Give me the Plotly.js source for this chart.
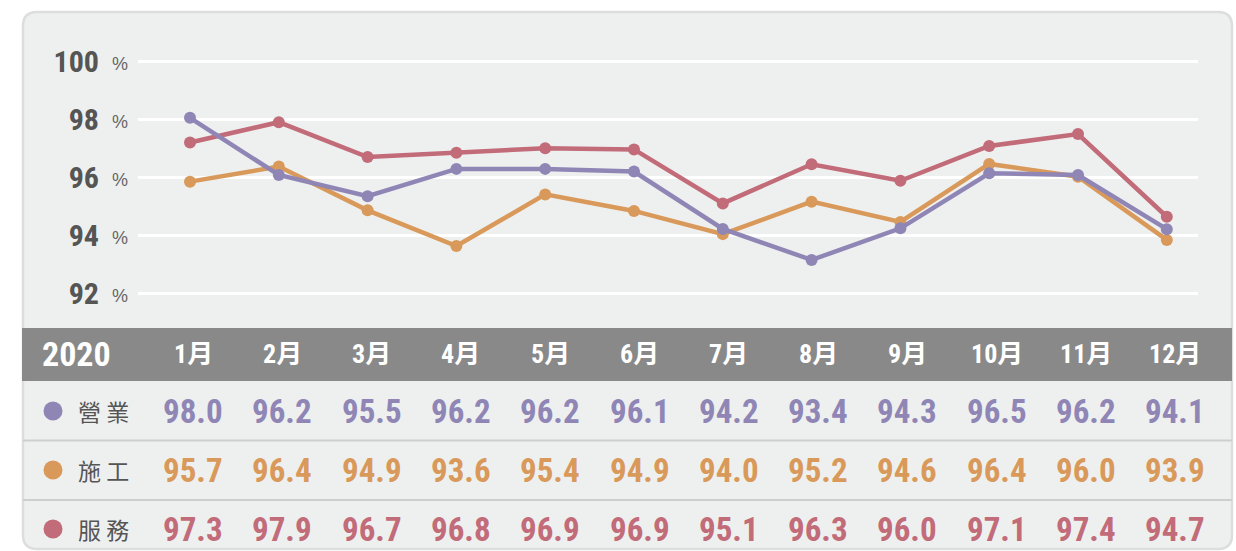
<!DOCTYPE html>
<html>
<head>
<meta charset="utf-8">
<script src="https://cdn.plot.ly/plotly-3.0.1.min.js"></script>
<style>html,body{margin:0;padding:0;background:#fff;}#chart{width:1236px;height:551px;}</style>
</head>
<body>
<div id="chart"></div>
<script>
// ---- data ----
const yearLabel = '2020';
const months = ['1月','2月','3月','4月','5月','6月','7月','8月','9月','10月','11月','12月'];
const seriesNames = ['營業','施工','服務'];
// values printed in the table
const yingyeTable = [98.0, 96.2, 95.5, 96.2, 96.2, 96.1, 94.2, 93.4, 94.3, 96.5, 96.2, 94.1];
const shigongTable = [95.7, 96.4, 94.9, 93.6, 95.4, 94.9, 94.0, 95.2, 94.6, 96.4, 96.0, 93.9];
const fuwuTable = [97.3, 97.9, 96.7, 96.8, 96.9, 96.9, 95.1, 96.3, 96.0, 97.1, 97.4, 94.7];
// values as plotted in the line chart (read from point positions)
const yingyeLine = [98.04, 96.07, 95.34, 96.28, 96.28, 96.19, 94.21, 93.14, 94.23, 96.13, 96.07, 94.20];
const shigongLine = [95.84, 96.36, 94.85, 93.62, 95.40, 94.83, 94.03, 95.15, 94.45, 96.45, 96.01, 93.83];
const fuwuLine = [97.19, 97.89, 96.69, 96.84, 96.99, 96.95, 95.09, 96.44, 95.87, 97.07, 97.48, 94.63];
const yTicks = [92, 94, 96, 98, 100];
const unitLabel = '%';

// ---- styling ----
const W = 1236, H = 551;
const colors = {'營業': '#8f86b6', '施工': '#d9995a', '服務': '#c26b79'};
const NUMFONT = '"Roboto Condensed", "Noto Sans CJK TC", sans-serif';
const CJKFONT = '"Noto Sans CJK TC", "Noto Sans", sans-serif';
const X = px => px / W;
const Y = py => 1 - py / H;

const lineData = {'營業': yingyeLine, '施工': shigongLine, '服務': fuwuLine};
const tableData = {'營業': yingyeTable, '施工': shigongTable, '服務': fuwuTable};

const drawOrder = ['服務', '施工', '營業'];
const traces = drawOrder.map(name => ({
  type: 'scatter', mode: 'lines+markers', name: name,
  x: months, y: lineData[name],
  line: {color: colors[name], width: 4.5},
  marker: {color: colors[name], size: 12},
  hoverinfo: 'skip'
}));

// card
const cx0 = 23, cx1 = 1232, cy0 = 12, cy1 = 549, r = 14;
const rx = r / W, ry = r / H;
const cardPath = `M ${X(cx0)+rx},${Y(cy0)} L ${X(cx1)-rx},${Y(cy0)} Q ${X(cx1)},${Y(cy0)} ${X(cx1)},${Y(cy0)-ry} ` +
  `L ${X(cx1)},${Y(cy1)+ry} Q ${X(cx1)},${Y(cy1)} ${X(cx1)-rx},${Y(cy1)} ` +
  `L ${X(cx0)+rx},${Y(cy1)} Q ${X(cx0)},${Y(cy1)} ${X(cx0)},${Y(cy1)+ry} ` +
  `L ${X(cx0)},${Y(cy0)-ry} Q ${X(cx0)},${Y(cy0)} ${X(cx0)+rx},${Y(cy0)} Z`;

const shapes = [
  {type: 'path', xref: 'paper', yref: 'paper', path: cardPath, fillcolor: '#eef0ef', line: {color: '#dcdedd', width: 2.5}, layer: 'below'},
  {type: 'rect', xref: 'paper', yref: 'paper', x0: X(22), x1: X(1232), y0: Y(381), y1: Y(328), fillcolor: '#898989', line: {width: 0}, layer: 'below'},
  {type: 'line', xref: 'paper', yref: 'paper', x0: X(23), x1: X(1232), y0: Y(440.5), y1: Y(440.5), line: {color: '#cdcfce', width: 2}, layer: 'below'},
  {type: 'line', xref: 'paper', yref: 'paper', x0: X(23), x1: X(1232), y0: Y(500), y1: Y(500), line: {color: '#cdcfce', width: 2}, layer: 'below'}
];

const rowY = [411, 470, 529];
const headerY = 354;
const colX0 = 193, colStep = 89.3;
const annotations = [];
// unit labels next to y ticks
yTicks.forEach(t => {
  annotations.push({xref: 'paper', yref: 'y', x: X(110), y: t, yshift: -3, text: unitLabel, showarrow: false,
    xanchor: 'left', yanchor: 'middle', font: {family: '"Liberation Sans", Arial, sans-serif', size: 18, color: '#666666'}});
});
annotations.push({xref: 'paper', yref: 'paper', x: X(76), y: Y(headerY), text: '<b>' + yearLabel + '</b>', showarrow: false,
  xanchor: 'center', yanchor: 'middle', font: {family: NUMFONT, size: 34, color: '#ffffff'}});
months.forEach((m, i) => {
  annotations.push({xref: 'paper', yref: 'paper', x: X(colX0 + colStep * i), y: Y(headerY), text: '<b>' + m + '</b>', showarrow: false,
    xanchor: 'center', yanchor: 'middle', font: {family: NUMFONT, size: 26, color: '#ffffff'}});
});
seriesNames.forEach((name, k) => {
  const cy = rowY[k];
  shapes.push({type: 'circle', xref: 'paper', yref: 'paper', x0: X(53 - 9.5), x1: X(53 + 9.5), y0: Y(cy + 9.5), y1: Y(cy - 9.5),
    fillcolor: colors[name], line: {width: 0}, layer: 'above'});
  annotations.push({xref: 'paper', yref: 'paper', x: X(76), y: Y(cy), text: name.split('').join(' '), showarrow: false,
    xanchor: 'left', yanchor: 'middle', font: {family: CJKFONT, size: 23, color: '#555555'}});
  tableData[name].forEach((v, i) => {
    annotations.push({xref: 'paper', yref: 'paper', x: X(colX0 + colStep * i), y: Y(cy), text: '<b>' + v.toFixed(1) + '</b>', showarrow: false,
      xanchor: 'center', yanchor: 'middle', font: {family: NUMFONT, size: 33, color: colors[name]}});
  });
});

// axis geometry: point i at 190 + 88.8*i px; gridlines from 138 to 1198 px; 29 px per unit, 100 at y=61
const ptX0 = 190, ptStep = 88.8;
const plotL = 138, plotR = 1198, plotT = 30, plotB = 320;
const pxPerUnit = 29, y100 = 61;

const layout = {
  width: W, height: H,
  margin: {l: 0, r: 0, t: 0, b: 0},
  paper_bgcolor: '#ffffff', plot_bgcolor: 'rgba(0,0,0,0)',
  showlegend: false,
  xaxis: {
    domain: [X(plotL), X(plotR)],
    type: 'category', categoryorder: 'array', categoryarray: months,
    range: [(plotL - ptX0) / ptStep, (plotR - ptX0) / ptStep],
    showgrid: false, zeroline: false, showline: false, showticklabels: false, ticks: '', fixedrange: true
  },
  yaxis: {
    domain: [Y(plotB), Y(plotT)],
    range: [100 - (plotB - y100) / pxPerUnit, 100 + (y100 - plotT) / pxPerUnit],
    tickmode: 'array', tickvals: yTicks,
    ticktext: yTicks.map(t => '<b>' + t + '</b>'),
    tickfont: {family: NUMFONT, size: 30, color: '#555555'},
    ticks: '', ticklabelstandoff: 38,
    showgrid: true, gridcolor: '#ffffff', gridwidth: 3,
    zeroline: false, showline: false, fixedrange: true
  },
  shapes: shapes,
  annotations: annotations
};

Plotly.newPlot('chart', traces, layout, {displayModeBar: false, staticPlot: true});
</script>
</body>
</html>
